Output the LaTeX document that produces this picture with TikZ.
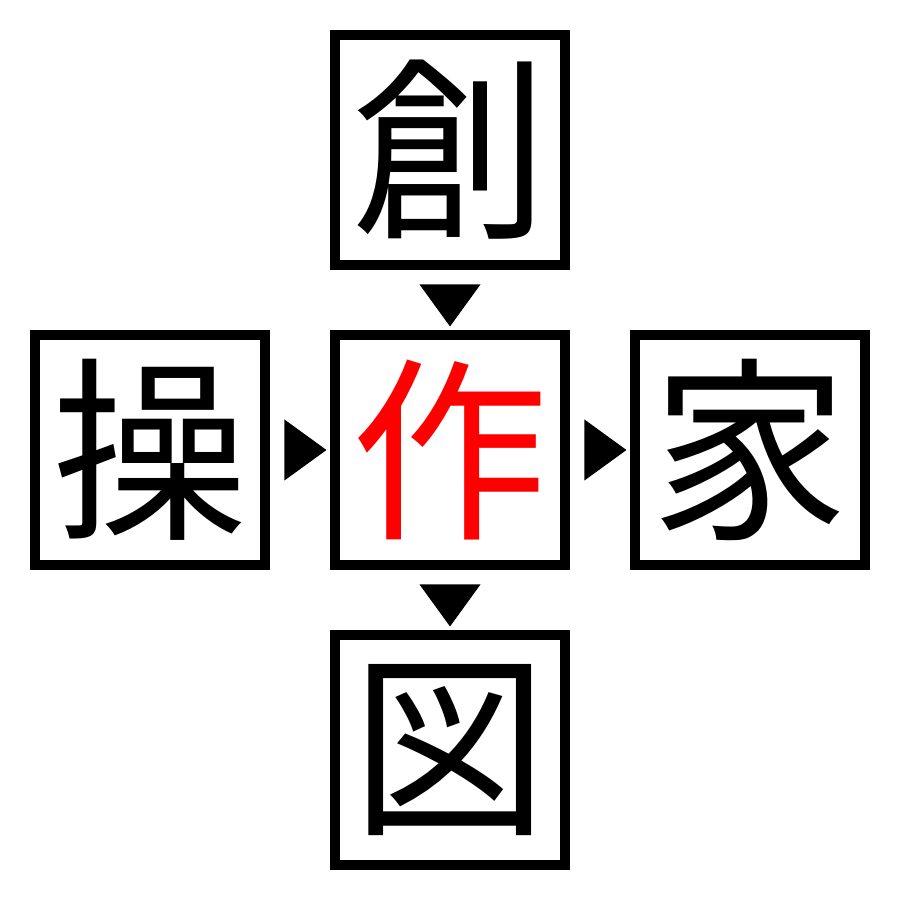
\documentclass[tikz,border=0pt]{standalone}
\usepackage{fontspec}
\usepackage{xcolor}
\usepackage{tikz}
\usetikzlibrary{positioning,shapes.geometric}
\newfontfamily\jpfont{Noto Sans CJK JP}

\tikzset{
	kanji/.style={draw,line width=1mm,minimum size=2.3cm,inner sep=0pt,font=\jpfont\fontsize{56}{56}\selectfont},
	tri/.style={isosceles triangle,isosceles triangle stretches,fill=black,inner sep=0pt,outer sep=0pt,minimum width=6.1mm,minimum height=4.2mm}
}

\begin{document}
\begin{tikzpicture}[node distance=6mm]
		\useasboundingbox (0,0) rectangle (9,9);
		\node[kanji,text=red] (make) at (4.5,4.5) {作};
		\node[kanji,above=of make] (create) {創};
		\node[kanji,left=of make] (operate) {操};
		\node[kanji,right=of make] (home) {家};
		\node[kanji,below=of make] (figure) {図};
		\path (create) -- node[tri,rotate=-90] (t1) {} (make);
		\path (operate) -- node[tri] (t2) {} (make);
		\path (make) -- node[tri] (t3) {} (home);
		\path (make) -- node[tri,rotate=-90] (t4) {} (figure);
	\end{tikzpicture}
\end{document}
